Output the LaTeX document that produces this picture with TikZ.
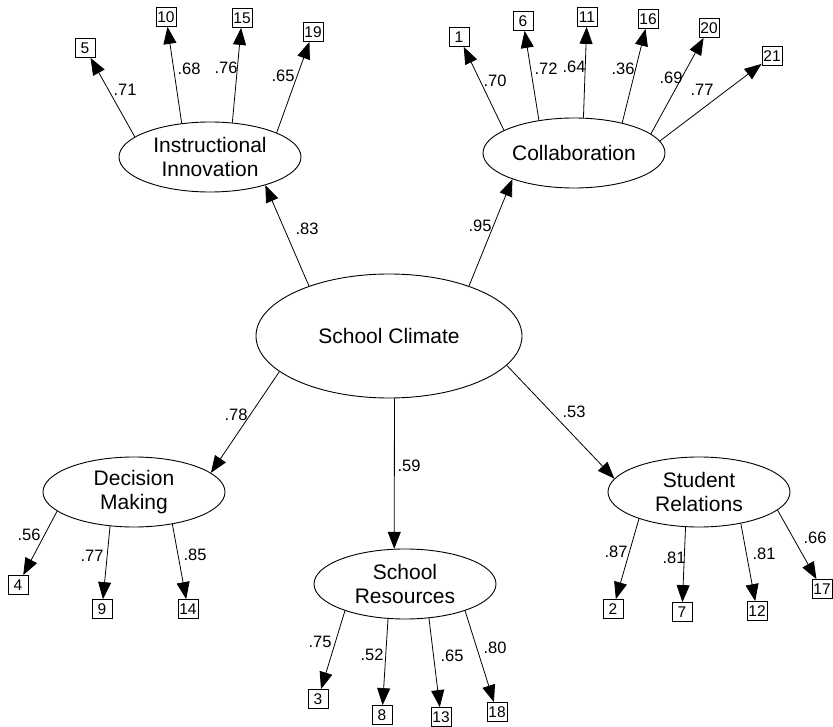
\documentclass[tikz,border=0pt]{standalone}
\usepackage{fontspec}
\setmainfont{Liberation Sans}
\usetikzlibrary{shapes.geometric,arrows.meta}
\begin{document}
\begin{tikzpicture}[x=1pt,y=-1pt,
  lat/.style={ellipse,draw,line width=0.9pt,minimum width=182pt,minimum height=70pt,inner sep=0pt,align=center,font=\fontsize{21}{24}\selectfont},
  bigl/.style={lat,minimum width=266pt,minimum height=124pt},
  obs/.style={rectangle,draw,line width=0.8pt,minimum width=20pt,minimum height=19pt,inner sep=1pt,font=\fontsize{15.5}{17}\selectfont},
  lbl/.style={inner sep=0pt,font=\fontsize{16.5}{18}\selectfont},
  arr/.style={line width=0.8pt,-{Triangle[length=17pt,width=13pt]}}]
\useasboundingbox (0,0) rectangle (833,727);

% latent variables
\node[bigl] (sc) at (389,336) {School Climate};
\node[lat] (ii) at (210,157) {Instructional\\Innovation};
\node[lat] (co) at (574,153) {Collaboration};
\node[lat] (dm) at (134,492) {Decision\\Making};
\node[lat] (sr) at (405,584) {School\\Resources};
\node[lat] (st) at (699,492) {Student\\Relations};

% observed items
\node[obs] (b5) at (85,48) {5};
\node[obs] (b10) at (166,17) {10};
\node[obs] (b15) at (242,18) {15};
\node[obs] (b19) at (313,32) {19};
\node[obs] (b1) at (459,37) {1};
\node[obs] (b6) at (523,21) {6};
\node[obs] (b11) at (587,17) {11};
\node[obs] (b16) at (648,19) {16};
\node[obs] (b20) at (709,28) {20};
\node[obs] (b21) at (772,56) {21};
\node[obs] (b4) at (18,585) {4};
\node[obs] (b9) at (102,609) {9};
\node[obs] (b14) at (188,609) {14};
\node[obs] (b3) at (318,699) {3};
\node[obs] (b8) at (382,715) {8};
\node[obs] (b13) at (441,717) {13};
\node[obs] (b18) at (497,712) {18};
\node[obs] (b2) at (613,609) {2};
\node[obs] (b7) at (682,612) {7};
\node[obs] (b12) at (757,611) {12};
\node[obs] (b17) at (822,589) {17};

% structural paths
\draw[arr] (sc.148) -- (ii.333);
\draw[arr] (sc.32) -- (co.203);
\draw[arr] (sc.198) -- (dm.14);
\draw[arr] (sc.275) -- (sr.107);
\draw[arr] (sc.346) -- (st.171);

% measurement paths
\draw[arr] (ii.165) -- (b5);
\draw[arr] (ii.130) -- (b10);
\draw[arr] (ii.57) -- (b15);
\draw[arr] (ii.20) -- (b19);

\draw[arr] (co.162) -- (b1);
\draw[arr] (co.137) -- (b6);
\draw[arr] (co.75) -- (b11);
\draw[arr] (co.32) -- (b16);
\draw[arr] (co.14) -- (b20);
\draw[arr] (co.8) -- (b21);

\draw[arr] (dm.194) -- (b4);
\draw[arr] (dm.235) -- (b9);
\draw[arr] (dm.320) -- (b14);

\draw[arr] (sr.204) -- (b3);
\draw[arr] (sr.244) -- (b8);
\draw[arr] (sr.305) -- (b13);
\draw[arr] (sr.336) -- (b18);

\draw[arr] (st.204) -- (b2);
\draw[arr] (st.249) -- (b7);
\draw[arr] (st.323) -- (b12);
\draw[arr] (st.347) -- (b17);

% labels
\node[lbl] (l71) at (125,90) {.71};
\node[lbl] (l68) at (189,69) {.68};
\node[lbl] (l76) at (226,68) {.76};
\node[lbl] (l65a) at (283,76) {.65};
\node[lbl] (l70) at (495,81) {.70};
\node[lbl] (l72) at (546,69) {.72};
\node[lbl] (l64) at (574,67) {.64};
\node[lbl] (l36) at (623,69) {.36};
\node[lbl] (l69) at (671,78) {.69};
\node[lbl] (l77a) at (702,90) {.77};
\node[lbl] (l83) at (307,229) {.83};
\node[lbl] (l95) at (480,226) {.95};
\node[lbl] (l78) at (236,415) {.78};
\node[lbl] (l59) at (409,466) {.59};
\node[lbl] (l53) at (574,412) {.53};
\node[lbl] (l56) at (29,535) {.56};
\node[lbl] (l77b) at (92,556) {.77};
\node[lbl] (l85) at (195,555) {.85};
\node[lbl] (l75) at (320,642) {.75};
\node[lbl] (l52) at (372,655) {.52};
\node[lbl] (l65b) at (452,656) {.65};
\node[lbl] (l80) at (495,648) {.80};
\node[lbl] (l87) at (616,552) {.87};
\node[lbl] (l81a) at (674,558) {.81};
\node[lbl] (l81b) at (764,554) {.81};
\node[lbl] (l66) at (815,538) {.66};
\end{tikzpicture}
\end{document}
